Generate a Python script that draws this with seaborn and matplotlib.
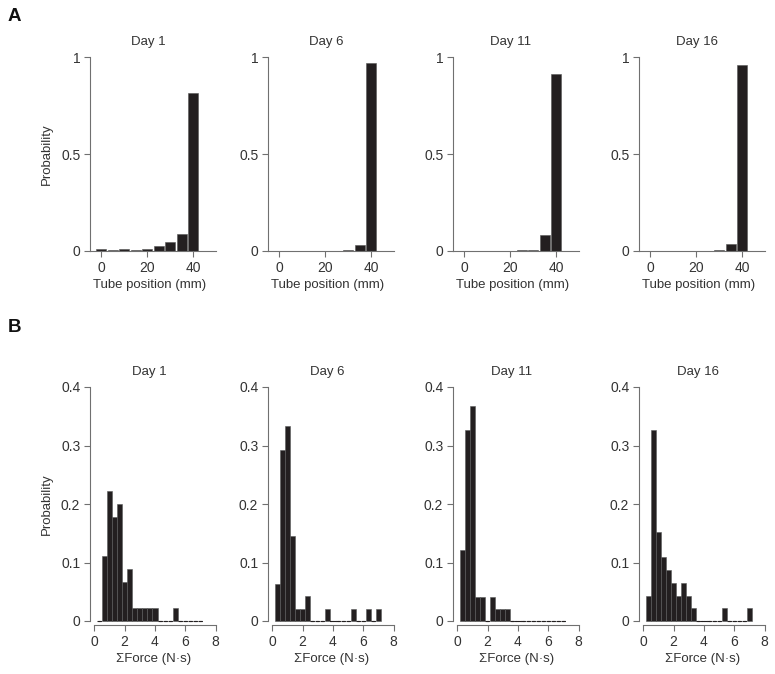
import matplotlib
matplotlib.use('Agg')
import matplotlib.pyplot as plt
import numpy as np
import pandas as pd
import seaborn as sns

days = ['Day 1', 'Day 6', 'Day 11', 'Day 16']

# panel A: tube position histograms (bin centres in mm)
tube_pos = [0, 5, 10, 15, 20, 25, 30, 35, 40]
tube_day1 = [0.008, 0.005, 0.010, 0.005, 0.008, 0.027, 0.045, 0.088, 0.815]
tube_day6 = [0.0, 0.0, 0.0, 0.0, 0.0, 0.0, 0.003, 0.030, 0.967]
tube_day11 = [0.0, 0.0, 0.0, 0.0, 0.0, 0.004, 0.005, 0.080, 0.911]
tube_day16 = [0.0, 0.0, 0.0, 0.0, 0.0, 0.002, 0.004, 0.035, 0.959]

# panel B: summed force histograms, bins of 1/3 N*s
force_centres = np.arange(1, 22) / 3.0
force_day1 = [0, 0.111, 0.222, 0.178, 0.200, 0.067, 0.089, 0.022, 0.022, 0.022, 0.022,
              0.022, 0, 0, 0, 0.022, 0, 0, 0, 0, 0]
force_day6 = [0.0625, 0.292, 0.333, 0.146, 0.021, 0.021, 0.042, 0, 0, 0, 0.021,
              0, 0, 0, 0, 0.021, 0, 0, 0.021, 0, 0.021]
force_day11 = [0.122, 0.327, 0.367, 0.041, 0.041, 0, 0.041, 0.020, 0.020, 0.020, 0,
               0, 0, 0, 0, 0, 0, 0, 0, 0, 0]
force_day16 = [0.043, 0.326, 0.152, 0.109, 0.087, 0.065, 0.043, 0.065, 0.043, 0.022, 0,
               0, 0, 0, 0, 0.022, 0, 0, 0, 0, 0.022]

tube_data = [tube_day1, tube_day6, tube_day11, tube_day16]
force_data = [force_day1, force_day6, force_day11, force_day16]

sns.set_style('ticks')
plt.rcParams['font.family'] = ['Liberation Sans', 'DejaVu Sans']
plt.rcParams['font.size'] = 9.5

bar_col = '#231f20'
axis_col = '#707070'
text_col = '#333333'
fs = 9.5

W, H = 775, 674
fig = plt.figure(figsize=(W / 100, H / 100), dpi=100)

lefts = [90, 268, 453, 639]


def style_axis(ax):
    for side in ['top', 'right']:
        ax.spines[side].set_visible(False)
    for side in ['left', 'bottom']:
        ax.spines[side].set_color(axis_col)
        ax.spines[side].set_linewidth(0.8)
    ax.tick_params(direction='out', length=4, width=0.8, color=axis_col,
                   labelcolor=text_col, labelsize=10, pad=3)


def dash_empty_bins(ax, dashed=True):
    for p in ax.patches:
        p.set_clip_on(False)
        if p.get_height() == 0 and dashed:
            p.set_edgecolor(bar_col)
            p.set_linewidth(0.8)
            p.set_linestyle((0, (3, 2)))


for i, day in enumerate(days):
    # top row
    df = pd.DataFrame({'pos': tube_pos, 'p': tube_data[i]})
    ax = fig.add_axes([lefts[i] / W, (H - 251) / H, 126 / W, 194 / H])
    sns.histplot(data=df, x='pos', weights='p', binwidth=5, binrange=(-2.5, 42.5),
                 shrink=0.88, color=bar_col, edgecolor='#555555', linewidth=0.4,
                 alpha=1, ax=ax)
    dash_empty_bins(ax, dashed=False)
    ax.set_xlim(-5, 50)
    ax.set_ylim(0, 1)
    ax.set_xticks([0, 20, 40])
    ax.set_yticks([0, 0.5, 1])
    ax.set_yticklabels(['0', '0.5', '1'])
    style_axis(ax)
    ax.spines['left'].set_bounds(0, 1)
    ax.set_title(day, fontsize=fs, color=text_col, pad=9, x=0.46)
    ax.set_xlabel('Tube position (mm)', fontsize=fs, color=text_col, labelpad=3)
    ax.xaxis.label.set_x(0.47)
    ax.set_ylabel('Probability' if i == 0 else '', fontsize=fs, color=text_col,
                  labelpad=6)

    # bottom row
    df = pd.DataFrame({'force': force_centres, 'p': force_data[i]})
    ax = fig.add_axes([lefts[i] / W, (H - 621) / H, 128 / W, 234 / H])
    sns.histplot(data=df, x='force', weights='p', binwidth=1 / 3,
                 binrange=(1 / 6, 7 + 1 / 6), color=bar_col, edgecolor='#5a5a5a',
                 linewidth=0.4, alpha=1, ax=ax)
    dash_empty_bins(ax)
    ax.set_xlim(-0.28, 8.15)
    ax.set_ylim(0, 0.4)
    ax.set_xticks([0, 2, 4, 6, 8])
    ax.set_yticks([0, 0.1, 0.2, 0.3, 0.4])
    ax.set_yticklabels(['0', '0.1', '0.2', '0.3', '0.4'])
    style_axis(ax)
    ax.spines['left'].set_bounds(0, 0.4)
    ax.spines['bottom'].set_bounds(0, 8)
    ax.spines['bottom'].set_position(('outward', 3))
    ax.set_title(day, fontsize=fs, color=text_col, pad=9, x=0.46)
    ax.set_xlabel('\u03a3Force (N\u00b7s)', fontsize=fs, color=text_col, labelpad=3)
    ax.set_ylabel('Probability' if i == 0 else '', fontsize=fs, color=text_col,
                  labelpad=6)

fig.text(8 / W, 1 - 21 / H, 'A', fontsize=13.5, fontweight='bold', color='#111111')
fig.text(8 / W, 1 - 332 / H, 'B', fontsize=13.5, fontweight='bold', color='#111111')

fig.savefig('out.png', dpi=100)
plt.close()
